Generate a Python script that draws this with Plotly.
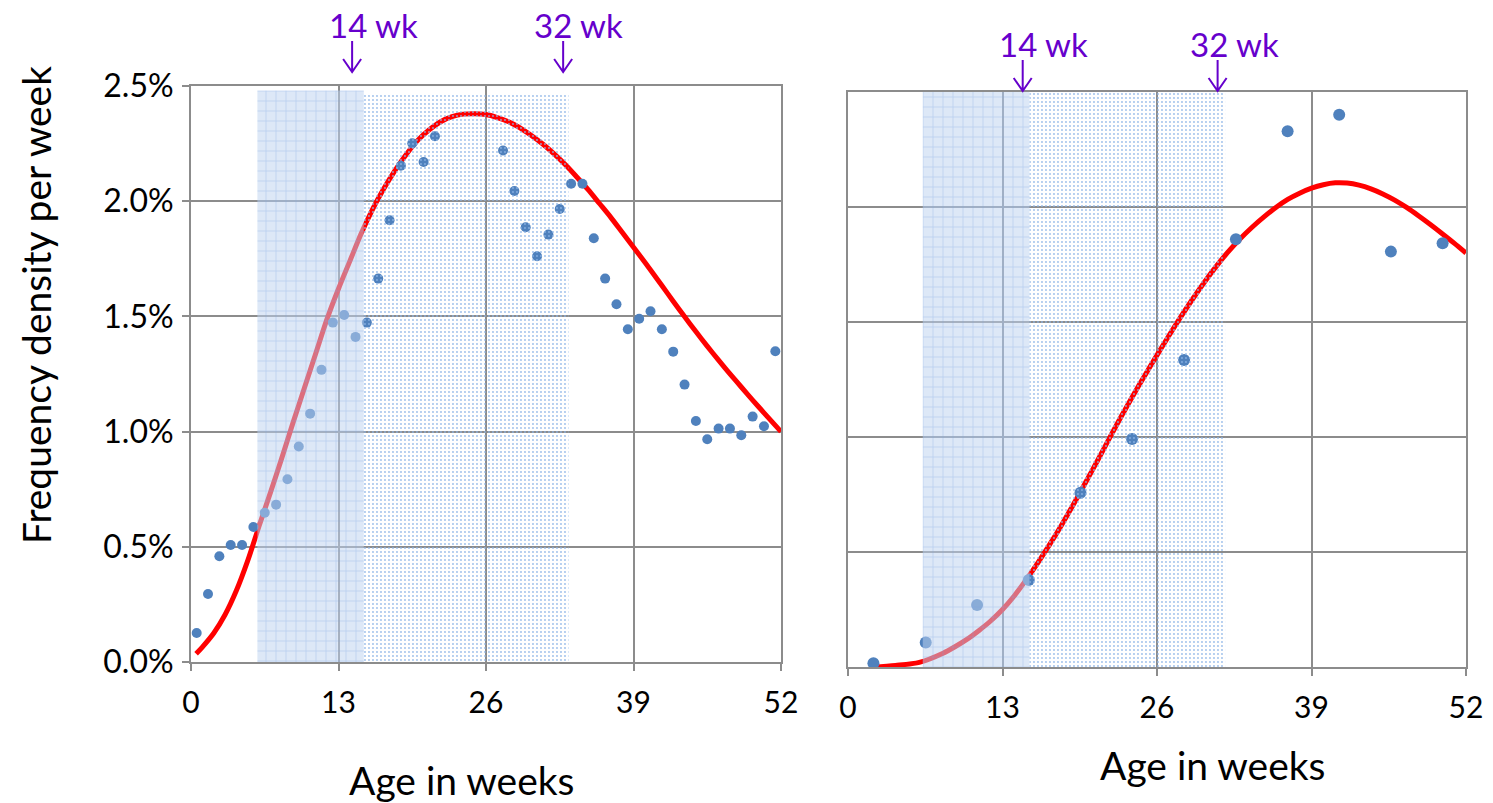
import plotly.graph_objects as go

# ---------------- data ----------------
# Left panel: weekly frequency density (%), points at mid-week
left_weeks = [0.5, 1.5, 2.5, 3.5, 4.5, 5.5, 6.5, 7.5, 8.5, 9.5, 10.5, 11.5, 12.5,
              13.5, 14.5, 15.5, 16.5, 17.5, 18.5, 19.5, 20.5, 21.5,
              27.5, 28.5, 29.5, 30.5, 31.5, 32.5, 33.5, 34.5, 35.5, 36.5, 37.5,
              38.5, 39.5, 40.5, 41.5, 42.5, 43.5, 44.5, 45.5, 46.5, 47.5, 48.5,
              49.5, 50.5, 51.5]
left_density = [0.126, 0.295, 0.459, 0.508, 0.508, 0.586, 0.648, 0.683, 0.793, 0.935,
                1.078, 1.268, 1.473, 1.506, 1.411, 1.473, 1.664, 1.917, 2.154, 2.251,
                2.170, 2.282,
                2.220, 2.044, 1.887, 1.761, 1.855, 1.966, 2.076, 2.076, 1.839, 1.664,
                1.553, 1.444, 1.490, 1.522, 1.444, 1.347, 1.204, 1.046, 0.967, 1.013,
                1.013, 0.984, 1.065, 1.023, 1.349]

# Left panel: fitted curve
left_fit_weeks = [0.45, 1, 2, 3, 4, 5, 6, 7, 8, 9, 10, 11, 12, 13, 14, 15, 16, 17, 18,
                  19, 20, 21, 22, 23, 24, 25, 26, 27, 28, 29, 30, 31, 32, 33, 34, 35,
                  36, 37, 38, 39, 40, 41, 42, 43, 44, 45, 46, 47, 48, 49, 50, 51, 52]
left_fit_density = [0.036, 0.065, 0.125, 0.205, 0.31, 0.44, 0.59, 0.735, 0.885, 1.04,
                    1.19, 1.34, 1.49, 1.62, 1.74, 1.86, 1.965, 2.055, 2.135, 2.205,
                    2.265, 2.31, 2.345, 2.367, 2.378, 2.38, 2.376, 2.363, 2.345, 2.318,
                    2.285, 2.248, 2.205, 2.158, 2.105, 2.05, 1.99, 1.93, 1.865, 1.80,
                    1.735, 1.668, 1.60, 1.532, 1.466, 1.402, 1.340, 1.280, 1.222, 1.165,
                    1.109, 1.054, 1.00]

# Right panel: monthly points (no scale shown)
right_weeks = [2.14, 6.54, 10.86, 15.21, 19.56, 23.9, 28.28, 32.64, 36.99, 41.33, 45.68, 50.03]
right_density = [0.016, 0.107, 0.27, 0.378, 0.758, 0.991, 1.335, 1.86, 2.329, 2.401, 1.806, 1.842]

right_fit_weeks = [2.1, 4, 6, 8, 9, 10, 11, 12, 13, 14, 15, 16, 17, 18, 19, 20, 21, 22,
                   23, 24, 25, 26, 27, 28, 29, 30, 31, 32, 33, 34, 35, 36, 37, 38, 39,
                   40, 41, 42, 43, 44, 45, 46, 47, 48, 49, 50, 51, 52]
right_fit_density = [0.0, 0.007, 0.02, 0.06, 0.088, 0.12, 0.158, 0.20, 0.25, 0.31,
                     0.38, 0.455, 0.535, 0.62, 0.71, 0.803, 0.898, 0.995, 1.09, 1.182,
                     1.27, 1.356, 1.44, 1.522, 1.60, 1.674, 1.743, 1.806, 1.862, 1.912,
                     1.957, 1.998, 2.033, 2.06, 2.082, 2.097, 2.105, 2.104, 2.095, 2.079,
                     2.057, 2.03, 1.998, 1.962, 1.924, 1.884, 1.843, 1.80]

# Shaded bands (weeks) and their vertical extent
left_dark_band = [5.85, 15.23]
left_light_band = [15.23, 33.27]
right_dark_band = [6.29, 15.27]
right_light_band = [15.27, 31.73]
left_band_top = [2.48, 2.468]
right_band_top = [2.51, 2.496]

# Arrow markers (weeks) and labels
left_arrow_weeks = [14.2, 32.8]
right_arrow_weeks = [14.7, 31.1]
arrow_labels = ["14 wk", "32 wk"]

x_ticks = [0, 13, 26, 39, 52]
y_ticks = [0.0, 0.5, 1.0, 1.5, 2.0, 2.5]

# ---------------- styling ----------------
W, H = 1493, 803
FONT = "Lato"
BLUE = "rgb(79,129,189)"
RED = "#FF0000"
GRID = "#8C8C8C"
PURPLE = "#6600CC"


def px_x(p):
    return p / W


def px_y(p):
    return 1 - p / H


fig = go.Figure()


def band(xr, top, dark, xa, ya):
    xs = [xr[0], xr[1], xr[1], xr[0], xr[0]]
    ys = [-0.05, -0.05, top, top, -0.05]
    if dark:
        pat = dict(shape="+", bgcolor="rgba(190,212,240,0.52)",
                   fgcolor="rgba(120,165,225,0.45)", size=10, solidity=0.12,
                   fillmode="replace")
    else:
        pat = dict(shape=".", bgcolor="rgba(255,255,255,0.0)",
                   fgcolor="rgba(140,180,230,0.85)", size=4, solidity=0.18,
                   fillmode="replace")
    return go.Scatter(x=xs, y=ys, mode="none", fill="toself", fillpattern=pat,
                      xaxis=xa, yaxis=ya, hoverinfo="skip", showlegend=False)


# left panel
fig.add_trace(go.Scatter(x=left_fit_weeks, y=left_fit_density, mode="lines",
                         line=dict(color=RED, width=5, shape="spline", smoothing=0.8),
                         xaxis="x", yaxis="y", showlegend=False))
fig.add_trace(go.Scatter(x=left_weeks, y=left_density, mode="markers",
                         marker=dict(color=BLUE, size=10),
                         xaxis="x", yaxis="y", showlegend=False))
fig.add_trace(band(left_dark_band, left_band_top[0], True, "x", "y"))
fig.add_trace(band(left_light_band, left_band_top[1], False, "x", "y"))

# right panel
fig.add_trace(go.Scatter(x=right_fit_weeks, y=right_fit_density, mode="lines",
                         line=dict(color=RED, width=5, shape="spline", smoothing=0.8),
                         xaxis="x2", yaxis="y2", showlegend=False))
fig.add_trace(go.Scatter(x=right_weeks, y=right_density, mode="markers",
                         marker=dict(color=BLUE, size=12),
                         xaxis="x2", yaxis="y2", showlegend=False))
fig.add_trace(band(right_dark_band, right_band_top[0], True, "x2", "y2"))
fig.add_trace(band(right_light_band, right_band_top[1], False, "x2", "y2"))

axis_common = dict(showgrid=True, gridcolor=GRID, gridwidth=2, zeroline=False,
                   showline=True, linecolor=GRID, linewidth=2, mirror=True,
                   automargin=False)
xtick_font = dict(family=FONT, size=30, color="black")
ytick_font = dict(family=FONT, size=32, color="black")

fig.update_layout(
    template="none",
    width=W, height=H,
    margin=dict(l=0, r=0, t=0, b=0, autoexpand=False),
    paper_bgcolor="white", plot_bgcolor="white",
    showlegend=False,
    xaxis=dict(domain=[px_x(191), px_x(781)], range=[0, 52], tickvals=x_ticks,
               ticks="outside", ticklen=7, tickcolor=GRID, tickwidth=2,
               ticklabelstandoff=6, anchor="y", tickfont=xtick_font, **axis_common),
    yaxis=dict(domain=[px_y(662), px_y(86)], range=[0, 2.5], tickvals=y_ticks,
               ticktext=[f"{v:.1f}%" for v in y_ticks],
               ticks="outside", ticklen=7, tickcolor=GRID, tickwidth=2,
               ticklabelstandoff=2, anchor="x", tickfont=ytick_font, **axis_common),
    xaxis2=dict(domain=[px_x(848), px_x(1466)], range=[0, 52], tickvals=x_ticks,
                ticks="outside", ticklen=7, tickcolor=GRID, tickwidth=2,
                ticklabelstandoff=6, anchor="y2", tickfont=xtick_font, **axis_common),
    yaxis2=dict(domain=[px_y(667), px_y(92)], range=[0, 2.5], tickvals=y_ticks,
                showticklabels=False, ticks="", anchor="x2", **axis_common),
)

# axis titles as annotations
title_font = dict(family=FONT, size=39, color="black")
common_ann = dict(xref="paper", yref="paper", showarrow=False,
                  xanchor="center", yanchor="middle")
fig.add_annotation(text="Age in weeks", x=px_x(462), y=px_y(780), font=title_font, **common_ann)
fig.add_annotation(text="Age in weeks", x=px_x(1213), y=px_y(765), font=title_font, **common_ann)
fig.add_annotation(text="Frequency density per week", x=px_x(36), y=px_y(305),
                   textangle=-90, font=title_font, **common_ann)

# week markers: labels + arrows
label_pos = [((373, 25), (578, 25)), ((1043, 44), (1234, 44))]
arrow_tip_y = [72, 91]
for panel, (weeks, xref) in enumerate([(left_arrow_weeks, "x"), (right_arrow_weeks, "x2")]):
    for k, wk in enumerate(weeks):
        lx, ly = label_pos[panel][k]
        fig.add_annotation(text=arrow_labels[k], x=px_x(lx), y=px_y(ly),
                           font=dict(family=FONT, size=33, color=PURPLE), **common_ann)
        fig.add_shape(type="path", xref=xref, yref="paper", xsizemode="pixel",
                      ysizemode="pixel", xanchor=wk, yanchor=px_y(arrow_tip_y[panel]),
                      path="M 0 31 L 0 0 M -9 13 L 0 0 L 9 13",
                      line=dict(color=PURPLE, width=2))

# remove the default page margin so the figure fills the window exactly
fig.write_html("out.html",
               config={"displayModeBar": False},
               post_script="document.body.style.margin='0px';"
                           "document.documentElement.style.overflow='hidden';")
